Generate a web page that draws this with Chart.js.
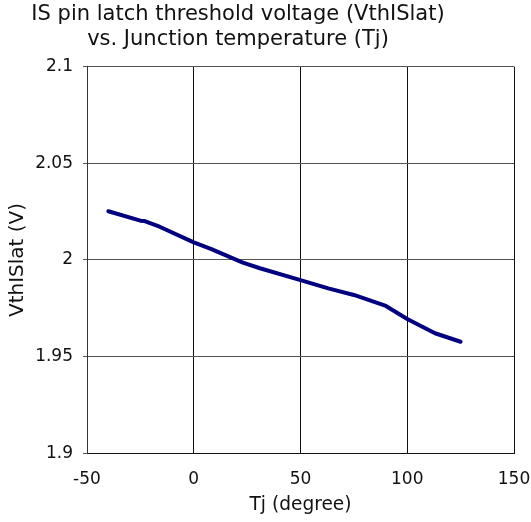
<!DOCTYPE html>
<html>
<head>
<meta charset="utf-8">
<script src="https://cdn.jsdelivr.net/npm/chart.js@4/dist/chart.umd.min.js"></script>
<style>
  body { margin: 0; background: #fff; }
  #wrap { width: 531px; height: 522px; }
</style>
</head>
<body>
<div id="wrap"><canvas id="myChart" width="531" height="522"></canvas></div>
<script>
// values
const tj = [-40, -25, -23, -16, 0, 8, 23, 31, 50, 63, 75, 90, 100, 113, 125];
const vth = [2.0252, 2.0203, 2.0201, 2.0172, 2.0091, 2.0057, 1.9986, 1.9957, 1.9896, 1.9853, 1.9819, 1.9762, 1.9695, 1.9621, 1.9577];
const titleLines = ['IS pin latch threshold voltage (VthISlat)', 'vs. Junction temperature (Tj)'];
const xTitle = 'Tj (degree)';
const yTitle = 'VthISlat (V)';

const font = 'DejaVu Sans';

// title is a bit left of the canvas middle in the original, so draw it here
const titlePlugin = {
  id: 'twoLineTitle',
  afterDraw(chart) {
    const ctx = chart.ctx;
    ctx.save();
    ctx.fillStyle = '#111';
    ctx.font = '21px "' + font + '"';
    ctx.textAlign = 'center';
    ctx.textBaseline = 'alphabetic';
    ctx.fillText(titleLines[0], 238, 20);
    ctx.fillText(titleLines[1], 238, 45);
    ctx.restore();
  }
};

new Chart('myChart', {
  type: 'scatter',
  data: {
    datasets: [{
      data: tj.map((t, i) => ({ x: t, y: vth[i] })),
      showLine: true,
      borderColor: '#000080',
      borderWidth: 4,
      borderCapStyle: 'round',
      borderJoinStyle: 'round',
      pointRadius: 0,
      tension: 0
    }]
  },
  plugins: [titlePlugin],
  options: {
    responsive: false,
    animation: false,
    layout: { padding: { left: 0, right: 17, top: 66.6, bottom: 0 } },
    plugins: {
      legend: { display: false },
      tooltip: { enabled: false },
      title: { display: false }
    },
    scales: {
      x: {
        type: 'linear',
        min: -50, max: 150,
        afterFit: s => { s.height = 68.7; s.paddingLeft = 0; s.paddingRight = 0; },
        ticks: { stepSize: 50, color: '#111', padding: 16, font: { family: font, size: 17 } },
        grid: { color: '#111', drawTicks: false },
        border: { color: '#111' },
        title: { display: true, text: xTitle, color: '#111', font: { family: font, size: 18.6 }, padding: { top: 0, bottom: 6 } }
      },
      y: {
        type: 'linear',
        min: 1.9, max: 2.1,
        afterFit: s => { s.width = 87; s.paddingTop = 0; s.paddingBottom = 0; },
        ticks: {
          stepSize: 0.05, color: '#111', padding: 10, font: { family: font, size: 17 },
          callback: v => String(+v.toFixed(2))
        },
        grid: { color: '#555', tickLength: 4 },
        border: { color: '#333' },
        title: { display: true, text: yTitle, color: '#111', font: { family: font, size: 20 }, padding: { top: 6, bottom: 0 } }
      }
    }
  }
});
</script>
</body>
</html>
